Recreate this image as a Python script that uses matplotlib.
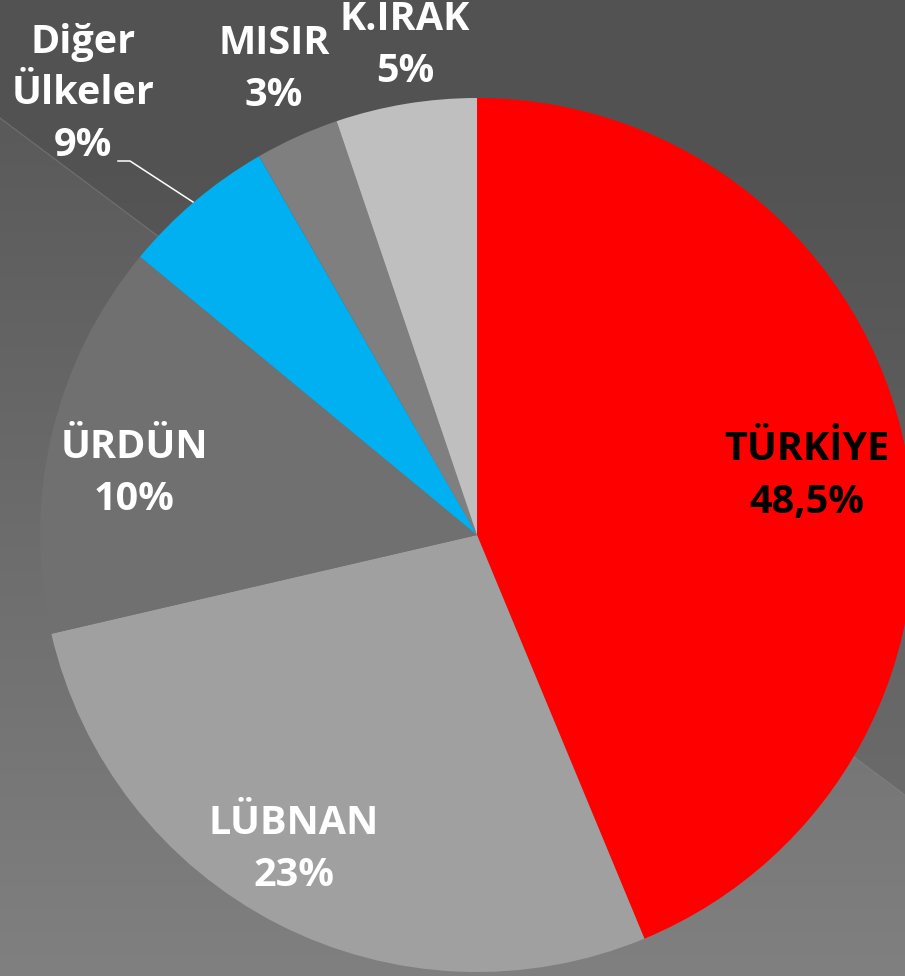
import numpy as np
import matplotlib
matplotlib.use("Agg")
import matplotlib.pyplot as plt

# ---- data ----
countries = ["TÜRKİYE", "LÜBNAN", "ÜRDÜN", "Diğer\nÜlkeler", "MISIR", "K.IRAK"]
shares = [43.7, 27.6, 14.6, 5.7, 3.1, 5.2]          # drawn slice sizes (%)
share_labels = ["48,5%", "23%", "10%", "9%", "3%", "5%"]  # printed labels

# ---- style ----
colors = ["#FF0000", "#A0A0A0", "#707070", "#00B0F0", "#7F7F7F", "#BFBFBF"]
text_colors = ["black", "white", "white", "white", "white", "white"]
# label line centres (image pixels, x, y of first line)
label_pos = [(807, 450), (294, 823), (134, 447), (83, 42), (274, 44), (405, 20)]
line_step = 52

W, H = 905, 976
fig = plt.figure(figsize=(W / 100, H / 100), dpi=100)
ax = fig.add_axes([0, 0, 1, 1])

# background: two toned diagonal split with soft vertical gradients
yy, xx = np.mgrid[0:H, 0:W].astype(float)
yline = 118 + 0.748 * xx
upper = 82 + np.clip(yy - 150, 0, None) / 630 * 24
lower = 90 + (yy - 120) / 856 * 38
bg = np.where(yy < yline, upper, lower) / 255.0
bg = np.clip(bg, 0, 1)
ax.imshow(np.dstack([bg, bg, bg]), extent=[0, W, 0, H], origin="upper",
          interpolation="bilinear", zorder=0, aspect="auto")
xs = np.array([0, W])
ax.plot(xs, H - (118 + 0.748 * xs), color="#8a8a8a", lw=0.8, alpha=0.5, zorder=1)

cx, cy, r = 477, H - 535, 437
wedges, _ = ax.pie(shares, colors=colors, startangle=90, counterclock=False,
                   center=(cx, cy), radius=r,
                   wedgeprops=dict(linewidth=0))
for w in wedges:
    w.set_zorder(2)

font = dict(family="Open Sans", fontweight="bold", fontsize=28.5)
for name, lab, (px, py), tc in zip(countries, share_labels, label_pos, text_colors):
    lines = name.split("\n") + [lab]
    for i, t in enumerate(lines):
        ax.text(px, H - (py + i * line_step), t, ha="center", va="center",
                color=tc, zorder=5, **font)

# leader line for "Diğer Ülkeler"
lx = [118, 130, 193]
ly = [161, 161, 202]
ax.plot(lx, [H - v for v in ly], color="white", lw=1.1, zorder=4)

ax.set_xlim(0, W)
ax.set_ylim(0, H)
ax.set_aspect("equal")
ax.axis("off")
fig.savefig("out.png", dpi=100)
